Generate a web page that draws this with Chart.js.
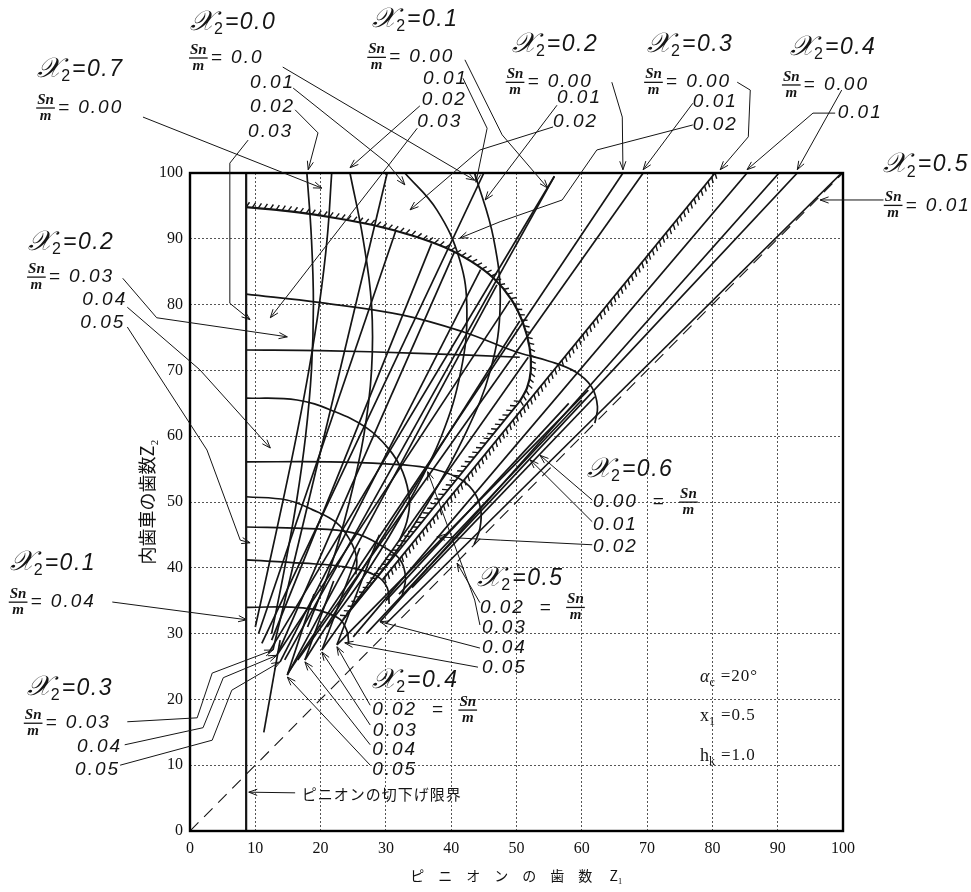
<!DOCTYPE html>
<html><head><meta charset="utf-8">
<script src="https://cdn.jsdelivr.net/npm/chart.js@4.4.1/dist/chart.umd.min.js"></script>
<style>html,body{margin:0;padding:0;background:#fff}</style>
</head><body>
<canvas id="c" width="971" height="892"></canvas>
<script>
// Tick values for both axes (number of teeth)
const z1Ticks = [0,10,20,30,40,50,60,70,80,90,100];
const z2Ticks = [0,10,20,30,40,50,60,70,80,90,100];

// Pinion undercut limit and the Z2 = Z1 reference
const undercutLine = [[8.6,0],[8.6,100]];
const equalLine = [[0,0],[100,100]];

// Interference limit (hatched)
const limitArc = [[8.6,94.8],[15,94.2],[22,93.2],[28,92.1],[34,90.5],[39,88.7],[43,86.6],[46.5,84],[49.2,80.8],[51,77.2],[52,73.5],[52.2,70],[51.6,67.3],[50.5,65.3]];
const limitLowerArm = [[50.5,65.3],[23.4,32.1]];
const limitUpperArm = [[80.4,100],[29.5,38.2]];

// Curves starting from the undercut limit
const arc82 = [[8.6,81.6],[20,80.3],[32.6,78.4],[42,75.8],[50,72.8],[55,71.4],[59,69.8],[61.5,67.5],[62.4,64.5],[62,62]];
const arc73 = [[8.6,73.1],[20,73],[35,72.6],[50.5,72]];
const arc66 = [[8.6,65.8],[16.4,65.5],[22,63.8],[27,61.3],[30.5,58],[32.6,54.5],[33.6,50.3],[33.2,47],[32,44]];
const arc56 = [[8.6,56.1],[21.4,56.1],[30,55.8],[36.3,55.2],[40.8,53.8],[43.3,51.8],[44.5,49],[44.4,46],[43.5,43.5]];
const arc51 = [[8.6,50.8],[14.8,50.3],[18.8,48.8],[22.5,46.8],[24.5,44.2],[25.5,41.6],[25.4,39]];
const arc46 = [[8.6,46.2],[17.3,46],[25,45.3],[29.6,43.2],[32.2,41.2],[33,38.5],[32.5,35.8]];
const arc41 = [[8.6,41.2],[17.3,40.7],[24,40.1],[28.5,38.8],[30.2,37],[30.5,34.5]];
const arc34 = [[8.6,34],[17.3,33.9],[22.5,32.5],[24,30.5],[24.3,28.5]];

// x2 = 0.0 and 0.7 curves
const x2_00 = [[43.6,100],[46.5,90],[47.5,80],[46,70],[42,60],[36.5,50],[30.5,41],[24,33]];
const x2_01 = [[32.9,100],[37.8,94.4],[41.3,86.8],[42.4,79.2],[41.5,70],[38.5,60],[33.5,50],[27.5,40],[21,31]];
const x2_02 = [[24.5,100],[26.5,90],[27.8,80],[27.8,70],[26.6,60],[24.4,50],[21.5,40],[18,31]];
const x2_03 = [[17.9,100],[18.6,90],[18.9,80],[18.6,70],[17.7,60],[16.3,50],[14.5,40],[12.5,30]];
const x7_00 = [[21.7,100],[21,90],[19.8,80],[18.2,70],[16.3,60],[14.2,50],[12,40],[10,31]];

// Straight branches, bottom point -> end point (top edge or interference limit)
const x1Lines = [[[12,27],[55.8,99.5]],[[14.5,26],[55.8,99.5]],[[11,28.5],[45,100]],[[10.5,30],[31.5,91.2]]];
const x2Lines = [[[15,24],[66.3,100]],[[13.5,27],[49,80.6]],[[12.5,29],[37,89.3]]];
const x3Lines = [[[16.5,26],[69.4,100]],[[12.7,27.5],[30.2,100]],[[13.3,26.7],[40.5,88]],[[13.8,25.7],[44.5,85.3]]];
const x4Lines = [[[27,30],[93,100]],[[25,29.5],[85.3,100]],[[22.5,28.3],[61,67]],[[20.2,27.5],[51.8,72]],[[17.6,26],[50.5,77.5]],[[14.9,23.7],[47,83]],
                 [[22.5,28.3],[29,45]],[[20.2,27.5],[26,43]],[[17.6,26],[22,38]],[[14.9,23.7],[19,36]]];
const x5Lines = [[[30,31.5],[99.8,100]],[[29.1,31.8],[90.2,100]]];
const x6Lines = [[[34,37],[62,66]],[[32,36],[60,65.5]],[[30,35],[58,65]]];
const shortStroke = [[11.3,15],[13.8,29]];

const toXY = pts => pts.map(p => ({x:p[0], y:p[1]}));
const INK = '#151515';
const datasets = [];
function addCurve(pts, opt) {
  datasets.push(Object.assign({data: toXY(pts), showLine:true, pointRadius:0, borderColor:INK,
    borderWidth:1.7, tension:0, fill:false}, opt || {}));
}
addCurve(undercutLine, {borderWidth:2.2});
addCurve(equalLine, {borderWidth:1.1, borderDash:[12,8]});
addCurve(limitArc, {borderWidth:2.2, tension:0.3});
addCurve(limitLowerArm, {borderWidth:1.8});
addCurve(limitUpperArm, {borderWidth:1.8});
[arc82, arc73, arc66, arc56, arc51, arc46, arc41, arc34].forEach(a => addCurve(a, {tension:0.4}));
[x2_00, x2_01, x2_02, x2_03, x7_00].forEach(a => addCurve(a, {tension:0.4}));
[x1Lines, x2Lines, x3Lines, x4Lines, x5Lines, x6Lines].forEach(f => f.forEach(l => addCurve(l)));
addCurve(shortStroke);

// Annotation labels (positions in tooth-number units)
const chiLabels = [
  {at:[0,122.8], v:'0.0'}, {at:[-23.4,115.7], v:'0.7'}, {at:[27.9,123.3], v:'0.1'},
  {at:[49.3,119.5], v:'0.2'}, {at:[70.0,119.5], v:'0.3'}, {at:[91.9,119.1], v:'0.4'},
  {at:[106.1,101.2], v:'0.5'}, {at:[-24.8,89.4], v:'0.2'}, {at:[-27.6,40.7], v:'0.1'},
  {at:[-25.0,21.7], v:'0.3'}, {at:[60.8,54.9], v:'0.6'}, {at:[44.0,38.4], v:'0.5'},
  {at:[27.9,22.9], v:'0.4'}
];
const fracLabels = [
  {at:[0,117.5], v:'0.0'}, {at:[-23.4,109.9], v:'0.00'}, {at:[27.3,117.6], v:'0.00'},
  {at:[48.5,113.8], v:'0.00'}, {at:[69.7,113.8], v:'0.00'}, {at:[90.8,113.4], v:'0.00'},
  {at:[106.4,95.1], v:'0.01'}, {at:[-24.8,84.2], v:'0.03'}, {at:[-27.6,34.8], v:'0.04'},
  {at:[-25.3,16.4], v:'0.03'}
];
const fracAfterLabels = [
  {at:[61.7,50.0], v:'0.00'}, {at:[44.4,34.0], v:'0.02'}, {at:[27.9,18.4], v:'0.02'}
];
const numLabels = [
  {at:[9.2,113.7], v:'0.01'}, {at:[9.2,110.0], v:'0.02'}, {at:[8.9,106.2], v:'0.03'},
  {at:[35.7,114.4], v:'0.01'}, {at:[35.5,111.1], v:'0.02'}, {at:[34.8,107.8], v:'0.03'},
  {at:[56.2,111.4], v:'0.01'}, {at:[55.6,107.8], v:'0.02'},
  {at:[77.0,110.8], v:'0.01'}, {at:[77.0,107.3], v:'0.02'},
  {at:[99.2,109.1], v:'0.01'},
  {at:[-16.5,80.7], v:'0.04'}, {at:[-16.8,77.2], v:'0.05'},
  {at:[-17.3,12.8], v:'0.04'}, {at:[-17.6,9.3], v:'0.05'},
  {at:[61.7,46.5], v:'0.01'}, {at:[61.7,43.2], v:'0.02'},
  {at:[44.7,30.9], v:'0.03'}, {at:[44.7,27.8], v:'0.04'}, {at:[44.7,24.8], v:'0.05'},
  {at:[28.0,15.3], v:'0.03'}, {at:[27.9,12.3], v:'0.04'}, {at:[27.9,9.3], v:'0.05'}
];
// Leader lines from labels to curves (arrow at the last point)
const leaders = [
  [[14.2,116.1],[43.6,98.9]],
  [[15.8,112.9],[30.2,101.5],[32.9,98.2]],
  [[16.1,109.6],[19.6,106.1],[18.1,100.5]],
  [[8.9,105.0],[6.1,101.5],[6.1,80.2],[9.2,77.7]],
  [[-7.2,108.5],[20.2,97.7]],
  [[42.1,117.2],[47.8,105.8],[54.8,97.7]],
  [[41.8,114.4],[45.5,106.8],[43.8,98.6]],
  [[35.2,110.2],[24.5,100.8]],
  [[34.8,106.8],[30.2,100.9],[12.3,78.0]],
  [[64.6,113.8],[66.2,108.5],[66.3,100.5]],
  [[56.2,110.3],[45.2,95.9]],
  [[55.6,107.0],[44.4,103.5],[33.7,94.4]],
  [[83.8,113.8],[85.8,112.6],[85.5,105.5],[81.2,100.5]],
  [[77.0,110.6],[69.4,100.5]],
  [[77.0,107.3],[62.3,103.5],[57.0,95.9],[47.5,92.6],[41.3,90.1]],
  [[99.8,112.6],[93.0,100.5]],
  [[98.8,109.1],[95.4,109.1],[85.3,100.5]],
  [[106.2,95.9],[96.5,95.9]],
  [[-10.3,84.0],[-5.1,78.0],[14.9,75.1]],
  [[-9.6,79.6],[1.5,70.1],[12.3,58.2]],
  [[-9.6,76.6],[2.6,57.9],[7.7,44.2],[9.2,43.8]],
  [[-11.9,34.8],[8.7,32.1]],
  [[-9.6,16.6],[1.1,17.2],[3.4,24.0],[12.7,27.5]],
  [[-10.0,13.1],[2.0,15.7],[5.1,23.3],[13.3,26.7]],
  [[-10.7,10.0],[3.4,13.8],[6.4,21.4],[13.8,25.7]],
  [[27.6,19.1],[22.5,28.0]],
  [[27.6,16.1],[20.2,27.2]],
  [[27.6,13.1],[17.6,25.7]],
  [[27.6,10.0],[14.9,23.4]],
  [[44.4,34.7],[40.9,40.7]],
  [[44.4,31.3],[43.6,35.1],[36.4,54.6]],
  [[44.4,27.8],[29.1,31.8]],
  [[44.1,24.9],[23.7,28.6]],
  [[61.6,50.3],[53.6,57.1]],
  [[61.6,47.0],[52.1,56.4]],
  [[61.6,43.5],[47.5,44.2],[37.8,44.7]],
  [[16.1,5.8],[9.0,5.9]]
];
const undercutText = {at:[17.1,5.6], text:'ピニオンの切下げ限界'};
const conditions = [
  {at:[78.1,23.4], sym:'α', sub:'c', val:'=20°', italic:true},
  {at:[78.1,17.5], sym:'x', sub:'1', val:'=0.5'},
  {at:[78.1,11.4], sym:'h', sub:'k', val:'=1.0'}
];

const HAND = "'Liberation Sans'";
const decor = {
  id:'decor',
  afterDatasetsDraw(chart) {
    const ctx = chart.ctx, xs = chart.scales.x, ys = chart.scales.y, a = chart.chartArea;
    const P = p => [xs.getPixelForValue(p[0]), ys.getPixelForValue(p[1])];
    ctx.save();
    // hatching along the interference limit
    function hatch(pts, side, len, step, lean) {
      const px = pts.map(P);
      let carry = 0;
      ctx.beginPath();
      for (let i = 0; i < px.length - 1; i++) {
        const [x0,y0] = px[i], [x1,y1] = px[i+1];
        const dx = x1-x0, dy = y1-y0, L = Math.hypot(dx,dy);
        const tx = dx/L, ty = dy/L;
        const nx = -ty*side, ny = tx*side;
        const hx = nx*Math.cos(lean) + tx*Math.sin(lean), hy = ny*Math.cos(lean) + ty*Math.sin(lean);
        for (let s = carry; s < L; s += step) {
          const bx = x0 + tx*s, by = y0 + ty*s;
          ctx.moveTo(bx, by); ctx.lineTo(bx + hx*len, by + hy*len);
        }
        carry = (carry - L) % step; if (carry < 0) carry += step;
      }
      ctx.strokeStyle = INK; ctx.lineWidth = 1.4; ctx.stroke();
    }
    hatch(limitArc, -1, 6, 6, 0.5);
    hatch(limitLowerArm, 1, 6, 6, 0.6);
    hatch(limitUpperArm, -1, 6, 5.5, 0.6);

    // frame
    ctx.strokeStyle = '#000'; ctx.lineWidth = 2.4;
    ctx.strokeRect(a.left, a.top, a.right - a.left, a.bottom - a.top);

    // leader lines
    ctx.lineWidth = 1; ctx.strokeStyle = INK; ctx.fillStyle = INK;
    leaders.forEach(l => {
      const q = l.map(P);
      ctx.beginPath(); ctx.moveTo(q[0][0], q[0][1]);
      q.slice(1).forEach(p => ctx.lineTo(p[0], p[1]));
      ctx.stroke();
      const [xa,ya] = q[q.length-2], [xb,yb] = q[q.length-1];
      const ang = Math.atan2(yb-ya, xb-xa);
      ctx.beginPath();
      ctx.moveTo(xb - 9*Math.cos(ang-0.35), yb - 9*Math.sin(ang-0.35));
      ctx.lineTo(xb, yb);
      ctx.lineTo(xb - 9*Math.cos(ang+0.35), yb - 9*Math.sin(ang+0.35));
      ctx.stroke();
    });

    // labels
    ctx.textBaseline = 'middle'; ctx.textAlign = 'left';
    function text(str, x, y, font, spacing) {
      ctx.font = font; ctx.letterSpacing = (spacing || 0) + 'px';
      ctx.fillText(str, x, y);
      const w = ctx.measureText(str).width; ctx.letterSpacing = '0px';
      return w;
    }
    function frac(x, y) {
      ctx.font = "italic bold 15px 'Liberation Serif'";
      const w = ctx.measureText('Sn').width;
      ctx.fillText('Sn', x, y - 8);
      ctx.fillRect(x - 1, y - 0.5, w + 2, 1.3);
      const mw = ctx.measureText('m').width;
      ctx.fillText('m', x + (w - mw) / 2, y + 8);
      return w + 2;
    }
    chiLabels.forEach(l => {
      let [x, y] = P(l.at);
      x += text('𝒳', x, y, "italic 28px 'DejaVu Serif'");
      x += text('2', x, y + 7, "16px " + HAND) + 2;
      text('=' + l.v, x, y, "italic 23px " + HAND, 1.5);
    });
    fracLabels.forEach(l => {
      let [x, y] = P(l.at);
      x += frac(x, y) + 2;
      text('= ' + l.v, x, y, "italic 19px " + HAND, 2);
    });
    fracAfterLabels.forEach(l => {
      let [x, y] = P(l.at);
      x += text(l.v + '  =  ', x, y, "italic 19px " + HAND, 2);
      frac(x, y);
    });
    numLabels.forEach(l => {
      const [x, y] = P(l.at);
      text(l.v, x, y, "italic 19px " + HAND, 2);
    });
    {
      const [x, y] = P(undercutText.at);
      text(undercutText.text, x, y, "15px 'Noto Sans CJK JP'", 1);
    }
    conditions.forEach(c => {
      let [x, y] = P(c.at);
      x += text(c.sym, x, y, (c.italic ? "italic " : "") + "18px 'Liberation Serif'");
      x += text(c.sub, x, y + 6, "12px 'Liberation Serif'") + 6;
      text(c.val, x, y, "17px 'Liberation Serif'", 1);
    });
    ctx.restore();
  }
};

const tickFont = {family:'Liberation Serif', size:16};
new Chart(document.getElementById('c'), {
  type:'scatter',
  data:{datasets},
  options:{
    responsive:false, animation:false, devicePixelRatio:1,
    layout:{padding:{left:132, right:128, top:173, bottom:4}},
    plugins:{legend:{display:false}, tooltip:{enabled:false}},
    scales:{
      x:{type:'linear', min:0, max:100,
        afterBuildTicks: s => { s.ticks = z1Ticks.map(v => ({value:v})); },
        afterFit: s => { s.height = 57; },
        ticks:{font:tickFont, color:'#111', padding:8, maxRotation:0, autoSkip:false},
        grid:{color: c => (c.tick && (c.tick.value === 0 || c.tick.value === 100)) ? 'rgba(0,0,0,0)' : '#555', lineWidth:1, drawTicks:false},
        border:{display:false, dash:[2,2]},
        title:{display:true, text:'ピ　ニ　オ　ン　の　歯　数　 Z₁', color:'#111', font:{family:'Noto Sans CJK JP', size:14}, padding:{top:2, bottom:4}}
      },
      y:{type:'linear', min:0, max:100,
        afterBuildTicks: s => { s.ticks = z2Ticks.map(v => ({value:v})); },
        afterFit: s => { s.width = 58; },
        ticks:{font:tickFont, color:'#111', padding:7, autoSkip:false},
        grid:{color: c => (c.tick && (c.tick.value === 0 || c.tick.value === 100)) ? 'rgba(0,0,0,0)' : '#555', lineWidth:1, drawTicks:false},
        border:{display:false, dash:[2,2]},
        title:{display:true, text:'内歯車の歯数Z₂', color:'#111', font:{family:'Noto Sans CJK JP', size:18}, padding:{top:4, bottom:4}}
      }
    }
  },
  plugins:[decor]
});
</script>
</body></html>
